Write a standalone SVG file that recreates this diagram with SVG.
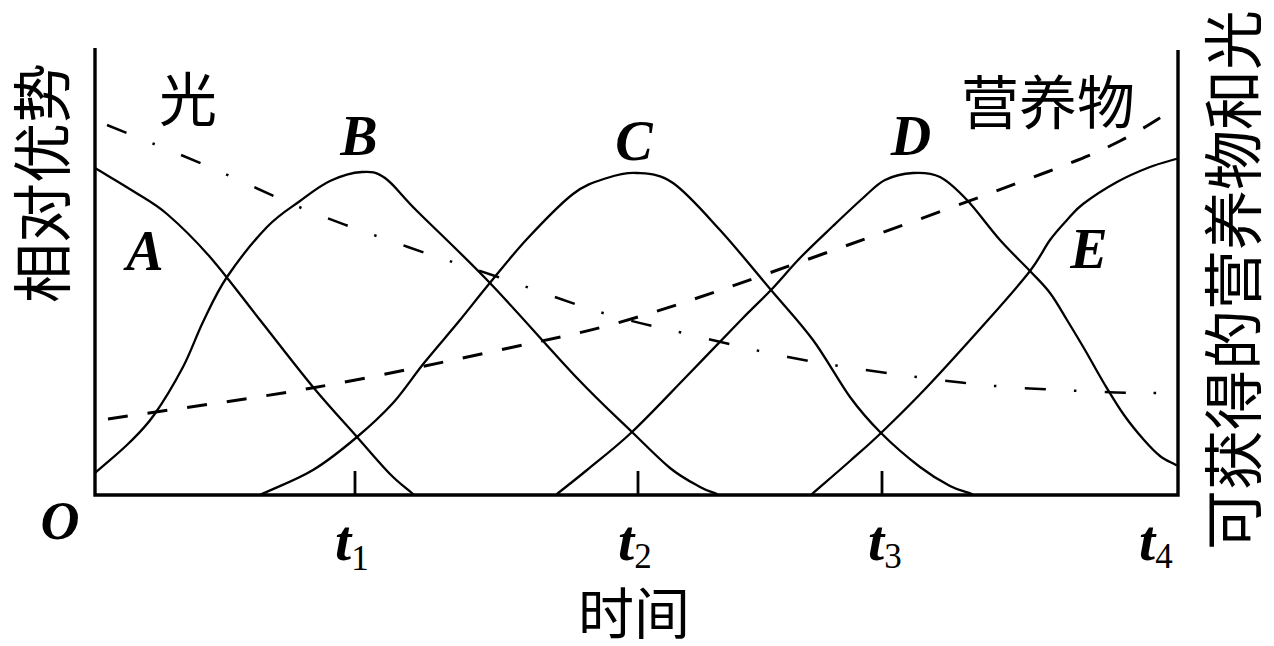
<svg xmlns="http://www.w3.org/2000/svg" width="1274" height="646" viewBox="0 0 1274 646">
<style>
.ax{fill:none;stroke:#000;stroke-width:3.4;stroke-linejoin:miter}
.tk{stroke:#000;stroke-width:2.8}
.cv{fill:none;stroke:#000;stroke-width:2.3;stroke-linecap:round}
.nut{fill:none;stroke:#000;stroke-width:3;stroke-dasharray:20 20}
.lt{fill:none;stroke:#000;stroke-width:2.5;stroke-dasharray:21 28 2.5 28.5}
.cjk{font-family:"Noto Sans CJK SC","Noto Sans CJK TC",sans-serif;fill:#000}
.it{font-family:"Liberation Serif","Times New Roman",serif;font-style:italic;font-weight:bold;fill:#000}
.sub{font-style:normal;font-weight:normal}
</style>
<rect width="1274" height="646" fill="#fff"/>
<g id="axes">
<path class="ax" d="M95,48 V495 H1178 V50"/>
<line class="tk" x1="355" y1="471" x2="355" y2="495"/>
<line class="tk" x1="638" y1="471" x2="638" y2="495"/>
<line class="tk" x1="882" y1="471" x2="882" y2="495"/>
</g>
<g id="connectors">
<path id="curveA" class="cv" d="M95,168 C107.7,175.7 121,183.3 133,191 S154.2,203 167,214 S194.5,239.3 210,257 S242.8,298.3 260,320 S296.8,367.5 313,387 S344.2,422.5 357,437 S380.7,464.5 390,474 S405.3,487.3 413,494"/>
<path id="curveB" class="cv" d="M95,473 C106.3,463 119.2,452.7 129,443 S145,427.7 154,415 S174.8,382.5 183,367 S195.7,337 203,322 S216.3,292.8 227,277 S254.8,239.7 267,227 S289.5,208.7 300,201 S319.7,185.8 330,181 S352.8,172.5 362,172 S375.8,171.5 385,178 S399.7,193.7 417,211 S462.3,254.2 489,282 S553.2,353 577,378 S616.5,417 632,432 S658.7,458.8 670,468 S692.2,482.7 700,487 S711.3,491.7 717,494"/>
<path id="curveC" class="cv" d="M260,495 C277.7,486.7 296.8,479.7 313,470 S343.7,448.2 357,437 S381.8,415.3 393,403 S412.8,376.8 424,363 S449.2,333.2 460,320 S477.8,297.5 489,284 S513,254 527,239 S559.7,204.2 573,194 S596.3,181.5 607,178 S626,172.2 637,173 S659.2,173.5 673,183 S703.7,212.2 720,230 S755.5,271.7 771,290 S799.8,322.2 813,340 S838.7,381.5 850,397 S869.3,421.3 881,433 S908.5,458.2 920,467 S941.3,481.5 950,486 S964.7,491.3 972,494"/>
<path id="curveD" class="cv" d="M557,494 C567,486 574.5,480.3 587,470 S615.5,447.5 632,432 S667.8,395.7 686,377 S726.8,334.5 741,320 S761.2,300.3 771,290 S789.7,268.7 800,258 S822.5,236 833,226 S854.3,205.7 863,198 S876.7,184.2 885,180 S903.8,173.5 913,173 S931,172.5 940,177 S957,189.5 967,200 S989.5,228.2 1000,240 S1021.7,262.2 1030,271 S1043.8,284.8 1050,293 S1061.2,310.5 1067,320 S1078.7,339.2 1085,350 S1098.5,374.2 1105,385 S1117.5,405.8 1124,415 S1138,433.2 1144,440 S1154.7,451.8 1160,456 S1170.7,462 1176,465"/>
<path id="curveE" class="cv" d="M812,494 C824.7,483 838.5,471.2 850,461 S868.2,445.3 881,433 S909.2,405.8 927,387 S970.8,339.3 988,320 S1019.7,284.3 1030,271 S1043.8,248.5 1050,240 S1061.5,226 1067,220 S1074.7,210.3 1083,204 S1105.8,188.2 1117,182 S1140.2,170.8 1150,167 S1167.3,161.7 1176,159"/>
<path id="nutrients" class="nut" d="M108,419 C176,408.7 245.2,399.8 312,388 S454.7,359.8 509,348 S586.2,332.5 638,317 S751.8,279.2 820,255 S997,191 1047,172 S1098.5,151.7 1120,141 S1157.3,119 1176,108"/>
<path id="light" class="lt" d="M107,125 C139.7,138.3 172.2,151 205,165 S270.2,195.3 304,209 S375.7,235.7 408,247 S465.5,266 498,277 S572.2,303.7 603,313 S652.2,325.7 683,333 S754,350.3 788,357 S852.5,368.2 887,373 S958.7,382.8 995,386 S1079.2,390.8 1105,392 S1141,392.7 1158,393"/>
</g>
<g id="labels">
<text class="cjk" x="188" y="121" font-size="58" text-anchor="middle">光</text>
<text class="cjk" x="1048" y="124" font-size="58" text-anchor="middle">营养物</text>
<text class="cjk" font-size="60" text-anchor="middle" transform="translate(65,183) rotate(-90)">相对优势</text>
<text class="cjk" font-size="60" text-anchor="middle" transform="translate(1256,280) rotate(-90)">可获得的营养物和光</text>
<text class="cjk" x="634" y="634" font-size="56" text-anchor="middle">时间</text>
<text class="it" x="145" y="270" font-size="56" text-anchor="middle">A</text>
<text class="it" x="359" y="155" font-size="56" text-anchor="middle">B</text>
<text class="it" x="634" y="160" font-size="56" text-anchor="middle">C</text>
<text class="it" x="911" y="155" font-size="56" text-anchor="middle">D</text>
<text class="it" x="1089" y="268" font-size="56" text-anchor="middle">E</text>
<text class="it" x="60" y="539" font-size="54" text-anchor="middle">O</text>
<text class="it" x="335" y="560" font-size="58">t<tspan class="sub" font-size="35" dy="10">1</tspan></text>
<text class="it" x="618" y="560" font-size="58">t<tspan class="sub" font-size="35" dy="8">2</tspan></text>
<text class="it" x="868" y="560" font-size="58">t<tspan class="sub" font-size="35" dy="8">3</tspan></text>
<text class="it" x="1139" y="560" font-size="58">t<tspan class="sub" font-size="35" dy="8">4</tspan></text>
</g>
</svg>
